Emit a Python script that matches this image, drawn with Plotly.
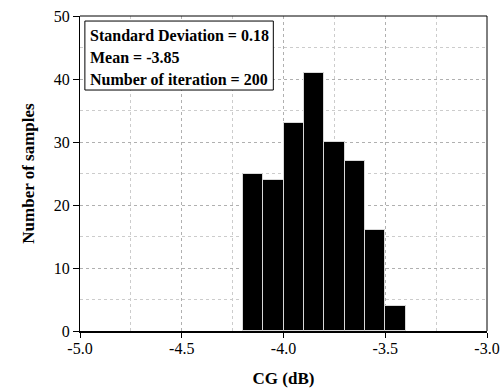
import plotly.graph_objects as go

bin_left = [-4.2, -4.1, -4.0, -3.9, -3.8, -3.7, -3.6, -3.5]
bin_width = 0.1
counts = [25, 24, 33, 41, 30, 27, 16, 4]
stats_lines = ["Standard Deviation = 0.18", "Mean = -3.85", "Number of iteration = 200"]
x_ticks = [-5.0, -4.5, -4.0, -3.5, -3.0]
x_ticklabels = ["-5.0", "-4.5", "-4.0", "-3.5", "-3.0"]
y_ticks = [0, 10, 20, 30, 40, 50]

centers = [b + bin_width / 2 for b in bin_left]

fig = go.Figure()
fig.add_trace(go.Bar(
    x=centers, y=counts, width=[bin_width] * len(counts),
    marker=dict(color="black", line=dict(color="#d8d8d8", width=1)),
))

font_family = "Liberation Serif, Times New Roman, Times, serif"
fig.update_layout(
    width=504, height=392,
    margin=dict(l=80, r=17, t=16, b=61),
    paper_bgcolor="white", plot_bgcolor="white",
    showlegend=False,
    bargap=0,
    font=dict(family=font_family, size=16, color="black"),
    xaxis=dict(
        range=[-5.0, -3.0], tickvals=x_ticks, ticktext=x_ticklabels,
        ticks="outside", ticklen=5, tickwidth=1, tickcolor="black",
        tickfont=dict(family=font_family, size=16), ticklabelstandoff=-3,
        showline=True, linecolor="black", linewidth=2, mirror=False,
        showgrid=True, gridcolor="#b0b0b0", griddash="dot", gridwidth=1,
        minor=dict(dtick=0.25, tick0=-5.0, showgrid=True, gridcolor="#cccccc", griddash="dot", gridwidth=1, ticks=""),
        zeroline=False, automargin=False,
        title=dict(text="<b>CG (dB)</b>", font=dict(family=font_family, size=17), standoff=16),
    ),
    yaxis=dict(
        range=[0, 50], tickvals=y_ticks,
        ticks="outside", ticklen=6, tickwidth=1, tickcolor="black",
        tickfont=dict(family=font_family, size=16),
        showline=True, linecolor="black", linewidth=1, mirror=False,
        showgrid=True, gridcolor="#b0b0b0", griddash="dot", gridwidth=1,
        minor=dict(dtick=5, tick0=0, showgrid=True, gridcolor="#cccccc", griddash="dot", gridwidth=1, ticks=""),
        zeroline=False, automargin=False,
        title=dict(text="<b>Number of samples</b>", font=dict(family=font_family, size=17), standoff=14),
    ),
)

# frame: top and right
fig.add_shape(type="line", xref="paper", yref="paper", x0=0, x1=1, y0=1, y1=1, line=dict(color="black", width=1))
fig.add_shape(type="line", xref="paper", yref="paper", x0=1, x1=1, y0=0, y1=1, line=dict(color="black", width=1))

# stats box
fig.add_shape(type="rect", xref="paper", yref="paper", x0=0.012, x1=0.475, y0=0.765, y1=0.984,
              line=dict(color="black", width=1), fillcolor="white", layer="above")
line_y = [0.937, 0.867, 0.797]
for txt, yy in zip(stats_lines, line_y):
    fig.add_annotation(xref="paper", yref="paper", x=0.02, y=yy, xanchor="left", yanchor="middle",
                       text="<b>" + txt + "</b>", showarrow=False,
                       font=dict(family=font_family, size=16))

fig.write_html("out.html")
